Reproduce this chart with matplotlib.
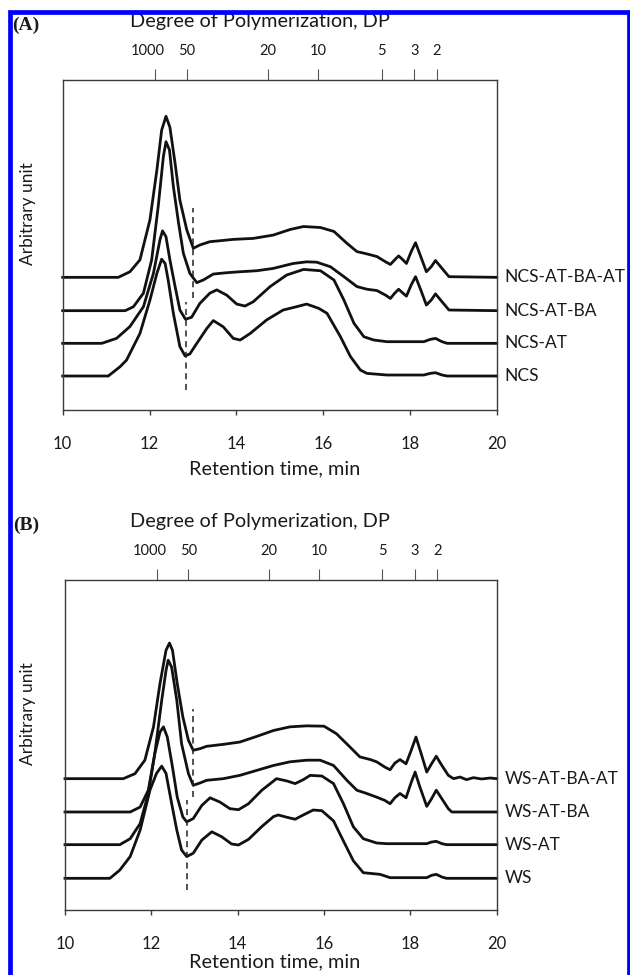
"""GPC elution profiles of NCS / WS starch samples, two stacked panels."""

import matplotlib
matplotlib.use("Agg")
import matplotlib.patches as mpatches
import matplotlib.pyplot as plt
from matplotlib.transforms import blended_transform_factory, offset_copy

plt.rcParams["font.family"] = ["Lato", "DejaVu Sans"]

W, H = 630, 975

# degree-of-polymerization markers on the top axis (retention time, label)
DP_POS = [12.13, 12.86, 14.72, 15.89, 17.35, 18.10, 18.62]
DP_LABELS = ["1000", "50", "20", "10", "5", "3", "2"]

X_TICKS = [10, 12, 14, 16, 18, 20]

# ---- panel A: heights above each trace's own baseline ----
NCS_T = [10.0, 11.05, 11.32, 11.47, 11.78, 12.01, 12.17, 12.28, 12.36, 12.43, 12.55, 12.70,
         12.82, 12.93, 13.09, 13.32, 13.47, 13.70, 13.93, 14.09, 14.32, 14.70, 15.08, 15.39,
         15.62, 15.90, 16.09, 16.40, 16.63, 16.86, 17.01, 17.47, 18.32, 18.47, 18.59, 18.74,
         18.86, 20.0]
NCS_H = [0, 0, 0.28, 0.48, 1.29, 2.30, 3.11, 3.54, 3.41, 2.91, 1.90, 0.89,
         0.61, 0.67, 0.99, 1.44, 1.68, 1.49, 1.14, 1.09, 1.29, 1.70, 2.00, 2.10,
         2.18, 2.05, 1.90, 1.19, 0.59, 0.18, 0.08, 0.03, 0.03, 0.08, 0.10, 0.03,
         0, 0]

NCS_AT_T = [10.0, 10.9, 11.24, 11.55, 11.86, 12.09, 12.24, 12.30, 12.38, 12.47, 12.59, 12.70,
            12.83, 12.97, 13.16, 13.39, 13.55, 13.78, 14.01, 14.20, 14.39, 14.78, 15.16, 15.55,
            15.94, 16.25, 16.48, 16.71, 16.94, 17.17, 17.47, 18.32, 18.47, 18.59, 18.74, 18.86,
            20.0]
NCS_AT_H = [0, 0, 0.15, 0.51, 1.11, 2.12, 3.13, 3.41, 3.23, 2.53, 1.72, 1.01,
            0.73, 0.79, 1.21, 1.52, 1.62, 1.46, 1.19, 1.13, 1.26, 1.72, 2.07, 2.24,
            2.20, 1.92, 1.31, 0.61, 0.20, 0.10, 0.05, 0.05, 0.12, 0.15, 0.05, 0,
            0]

NCS_AT_BA_T = [10.0, 11.44, 11.63, 11.86, 12.05, 12.20, 12.32, 12.38, 12.46, 12.55, 12.67,
               12.78, 12.93, 13.09, 13.24, 13.47, 13.78, 14.09, 14.47, 14.85, 15.31, 15.62,
               15.85, 16.17, 16.48, 16.78, 17.01, 17.24, 17.44, 17.55, 17.65, 17.74, 17.84,
               17.92, 18.03, 18.13, 18.25, 18.38, 18.49, 18.59, 18.74, 18.90, 20.0]
NCS_AT_BA_H = [0, 0, 0.12, 0.53, 1.54, 3.15, 4.67, 5.12, 4.87, 3.76, 2.65,
               1.74, 1.13, 0.85, 0.93, 1.11, 1.15, 1.18, 1.21, 1.28, 1.43, 1.48,
               1.47, 1.33, 1.03, 0.73, 0.65, 0.61, 0.47, 0.37, 0.53, 0.65, 0.53,
               0.44, 0.78, 1.03, 0.63, 0.17, 0.32, 0.51, 0.27, 0.02, 0]

NCS_AT_BA_AT_T = [10.0, 11.28, 11.55, 11.78, 12.01, 12.17, 12.28, 12.38, 12.47, 12.59, 12.70,
                  12.86, 13.01, 13.16, 13.39, 13.63, 13.93, 14.39, 14.85, 15.24, 15.55, 15.94,
                  16.25, 16.55, 16.78, 17.01, 17.24, 17.44, 17.55, 17.65, 17.74, 17.84, 17.92,
                  18.03, 18.13, 18.25, 18.38, 18.49, 18.59, 18.74, 18.90, 20.0]
NCS_AT_BA_AT_H = [0, 0, 0.17, 0.53, 1.74, 3.25, 4.46, 4.88, 4.55, 3.45, 2.34,
                  1.43, 0.88, 0.98, 1.08, 1.11, 1.15, 1.18, 1.28, 1.45, 1.54, 1.51,
                  1.39, 1.03, 0.78, 0.71, 0.63, 0.47, 0.39, 0.53, 0.65, 0.53, 0.42,
                  0.78, 1.05, 0.63, 0.17, 0.32, 0.51, 0.27, 0.02, 0]

# ---- panel B ----
WS_T = [10.0, 11.04, 11.27, 11.51, 11.74, 11.97, 12.12, 12.24, 12.34, 12.47, 12.59, 12.70,
        12.82, 12.97, 13.17, 13.40, 13.63, 13.86, 14.02, 14.25, 14.56, 14.83, 14.94, 15.14,
        15.33, 15.52, 15.75, 15.95, 16.22, 16.45, 16.68, 16.91, 17.30, 17.53, 18.38, 18.49,
        18.60, 18.73, 18.84, 20.0]
WS_H = [0, 0, 0.25, 0.66, 1.46, 2.68, 3.18, 3.40, 3.18, 2.27, 1.46, 0.86,
        0.66, 0.76, 1.16, 1.41, 1.26, 1.04, 1.01, 1.18, 1.57, 1.87, 1.92, 1.85,
        1.79, 1.92, 2.07, 2.05, 1.74, 1.13, 0.53, 0.17, 0.12, 0.02, 0.02, 0.09,
        0.12, 0.04, 0, 0]

WS_AT_T = [10.0, 11.27, 11.51, 11.74, 11.93, 12.08, 12.20, 12.28, 12.37, 12.49, 12.60, 12.73,
           12.82, 12.97, 13.17, 13.36, 13.59, 13.82, 14.02, 14.25, 14.56, 14.90, 15.14, 15.33,
           15.52, 15.68, 15.95, 16.22, 16.45, 16.68, 16.91, 17.22, 17.45, 18.38, 18.49, 18.60,
           18.73, 18.84, 20.0]
WS_AT_H = [0, 0, 0.18, 0.64, 1.55, 2.76, 3.41, 3.57, 3.26, 2.35, 1.44, 0.84,
           0.69, 0.79, 1.19, 1.42, 1.29, 1.09, 1.06, 1.24, 1.65, 2.00, 1.93, 1.85,
           1.97, 2.10, 2.08, 1.85, 1.24, 0.54, 0.18, 0.05, 0.03, 0.03, 0.08, 0.10,
           0.03, 0, 0]

WS_AT_BA_T = [10.0, 11.51, 11.74, 11.93, 12.08, 12.24, 12.34, 12.39, 12.47, 12.59, 12.70,
              12.86, 12.97, 13.13, 13.28, 13.67, 14.05, 14.44, 14.83, 15.21, 15.60, 15.91,
              16.22, 16.53, 16.76, 16.99, 17.22, 17.41, 17.53, 17.64, 17.76, 17.90, 18.01,
              18.11, 18.22, 18.38, 18.49, 18.60, 18.73, 18.88, 18.96, 20.0]
WS_AT_BA_H = [0, 0, 0.15, 0.66, 1.77, 3.38, 4.29, 4.60, 4.39, 3.38, 2.07,
              1.16, 0.81, 0.88, 0.96, 1.01, 1.11, 1.26, 1.41, 1.52, 1.57, 1.57,
              1.41, 0.96, 0.66, 0.56, 0.45, 0.35, 0.25, 0.43, 0.56, 0.43, 0.86,
              1.21, 0.76, 0.17, 0.40, 0.66, 0.40, 0.10, 0, 0]

WS_AT_BA_AT_T = [10.0, 11.35, 11.62, 11.85, 12.05, 12.20, 12.34, 12.42, 12.49, 12.60, 12.73,
                 12.86, 12.97, 13.13, 13.28, 13.67, 14.05, 14.44, 14.83, 15.21, 15.60, 16.00,
                 16.29, 16.60, 16.83, 17.07, 17.22, 17.41, 17.53, 17.64, 17.76, 17.90, 18.02,
                 18.13, 18.25, 18.38, 18.49, 18.60, 18.73, 18.88, 19.00, 19.15, 19.30, 19.46,
                 19.65, 19.85, 20.0]
WS_AT_BA_AT_H = [0, 0, 0.15, 0.56, 1.57, 2.88, 3.89, 4.11, 3.89, 2.88, 1.87,
                 1.16, 0.86, 0.91, 0.98, 1.04, 1.11, 1.28, 1.46, 1.57, 1.60, 1.59,
                 1.36, 0.96, 0.66, 0.58, 0.51, 0.35, 0.27, 0.47, 0.58, 0.45, 0.86,
                 1.26, 0.76, 0.20, 0.45, 0.68, 0.40, 0.10, 0, 0.05, -0.03, 0.03,
                 -0.01, 0.02, 0]

NAMES_A = ["NCS", "NCS-AT", "NCS-AT-BA", "NCS-AT-BA-AT"]
NAMES_B = ["WS", "WS-AT", "WS-AT-BA", "WS-AT-BA-AT"]
OFFSETS_A = [1.03, 2.02, 3.01, 4.02]
OFFSETS_B = [0.96, 1.98, 2.97, 3.98]

# dashed markers: (time, y from, y to)
DASH_A = [(13.00, 3.38, 6.11), (12.83, 0.60, 3.28)]
DASH_B = [(12.97, 3.41, 6.10), (12.82, 0.60, 3.33)]

SPINE = "#3a3a3a"
INK = "#1a1a1a"


def px_box(left, top, right, bottom):
    return [left / W, 1 - bottom / H, (right - left) / W, (bottom - top) / H]


def draw_panel(fig, ax, traces, offsets, names, dashes, tag, top_px, xlabel_px):
    for (t, h), off, name in zip(traces, offsets, names):
        ax.plot(t, [v + off for v in h], color="#111111", lw=2.0,
                solid_joinstyle="round", clip_on=False)
        ax.text(20, off, name, transform=offset_copy(ax.transData, fig, x=8, y=0, units="dots"),
                ha="left", va="center", fontsize=12.5, color=INK, clip_on=False)
    for x, y0, y1 in dashes:
        ax.plot([x, x], [y0, y1], color="#222222", lw=1.1, ls=(0, (4, 3)))

    ax.set_xlim(10, 20)
    ax.set_ylim(0, 10)
    ax.set_yticks([])
    ax.set_xticks(X_TICKS)
    ax.tick_params(axis="x", direction="out", length=3.5, width=1.0, color=SPINE,
                   pad=15, labelsize=12, labelcolor=INK)
    for spine in ax.spines.values():
        spine.set_color(SPINE)
        spine.set_linewidth(1.0)

    top = ax.secondary_xaxis("top")
    top.set_xticks(DP_POS)
    top.set_xticklabels([])
    top.tick_params(direction="out", length=8, width=0.8, color="#555555")
    top.spines["top"].set_visible(False)

    trans = blended_transform_factory(ax.transData, ax.transAxes)
    for pos, lab in zip(DP_POS, DP_LABELS):
        dx = -7 if lab == "1000" else 0
        ax.text(pos, 1.0, lab, transform=offset_copy(trans, fig, x=dx, y=29, units="dots"),
                ha="center", va="center", fontsize=10.5, color=INK)

    fig.text(260 / W, 1 - (top_px - 58) / H, "Degree of Polymerization, DP",
             ha="center", va="center", fontsize=14.3, color=INK)
    fig.text(275 / W, 1 - xlabel_px / H, "Retention time, min",
             ha="center", va="center", fontsize=14.3, color=INK)
    fig.text(28 / W, 1 - (top_px + 134) / H, "Arbitrary unit", rotation=90,
             ha="center", va="center", fontsize=12.5, color=INK)
    fig.text(26 / W, 1 - (top_px - 55) / H, tag, ha="center", va="center",
             fontsize=14, fontweight="bold", family=["Liberation Serif", "DejaVu Serif"],
             color=INK)


def main() -> None:
    fig = plt.figure(figsize=(W / 100, H / 100), dpi=100, facecolor="white")

    ax_a = fig.add_axes(px_box(62.7, 80, 496.7, 410))
    ax_b = fig.add_axes(px_box(65, 580, 496.7, 910))

    traces_a = [(NCS_T, NCS_H), (NCS_AT_T, NCS_AT_H), (NCS_AT_BA_T, NCS_AT_BA_H),
                (NCS_AT_BA_AT_T, NCS_AT_BA_AT_H)]
    traces_b = [(WS_T, WS_H), (WS_AT_T, WS_AT_H), (WS_AT_BA_T, WS_AT_BA_H),
                (WS_AT_BA_AT_T, WS_AT_BA_AT_H)]

    draw_panel(fig, ax_a, traces_a, OFFSETS_A, NAMES_A, DASH_A, "(A)", 80, 469)
    draw_panel(fig, ax_b, traces_b, OFFSETS_B, NAMES_B, DASH_B, "(B)", 580, 962)

    # blue frame, partly running off the bottom/right edge as in the scan
    fig.add_artist(mpatches.Rectangle((9.5 / W, -0.02), (629 - 9.5) / W, 1 - 12.5 / H + 0.02,
                                      transform=fig.transFigure, fill=False,
                                      edgecolor="#0000ff", linewidth=3.4, zorder=10))

    fig.savefig("out.png", dpi=100, facecolor="white")
    plt.close(fig)


if __name__ == "__main__":
    main()
